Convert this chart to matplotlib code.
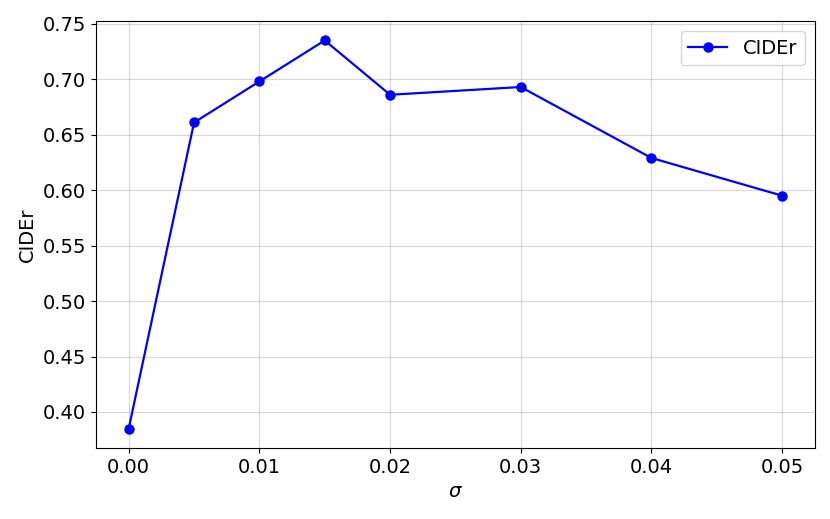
import matplotlib
matplotlib.use("Agg")
import matplotlib.pyplot as plt

# sigma values and CIDEr scores
sigma = [0.0, 0.005, 0.01, 0.015, 0.02, 0.03, 0.04, 0.05]
cider = [0.385, 0.661, 0.698, 0.735, 0.686, 0.693, 0.629, 0.595]
xticks = [0.00, 0.01, 0.02, 0.03, 0.04, 0.05]

plt.rcParams['font.size'] = 14

fig = plt.figure(figsize=(8.3, 5.19), dpi=100)
ax = fig.add_axes([0.1157, 0.1368, 0.866, 0.8227])

ax.plot(sigma, cider, marker='o', color='blue', linewidth=1.6, markersize=6.5, label='CIDEr')

ax.set_xticks(xticks)
ax.set_xticklabels([f"{v:.2f}" for v in xticks])
ax.set_xlabel(r"$\sigma$")
ax.set_ylabel("CIDEr")
ax.grid(True, alpha=0.5)
ax.legend(loc='upper right')

fig.savefig("out.png", dpi=100)
